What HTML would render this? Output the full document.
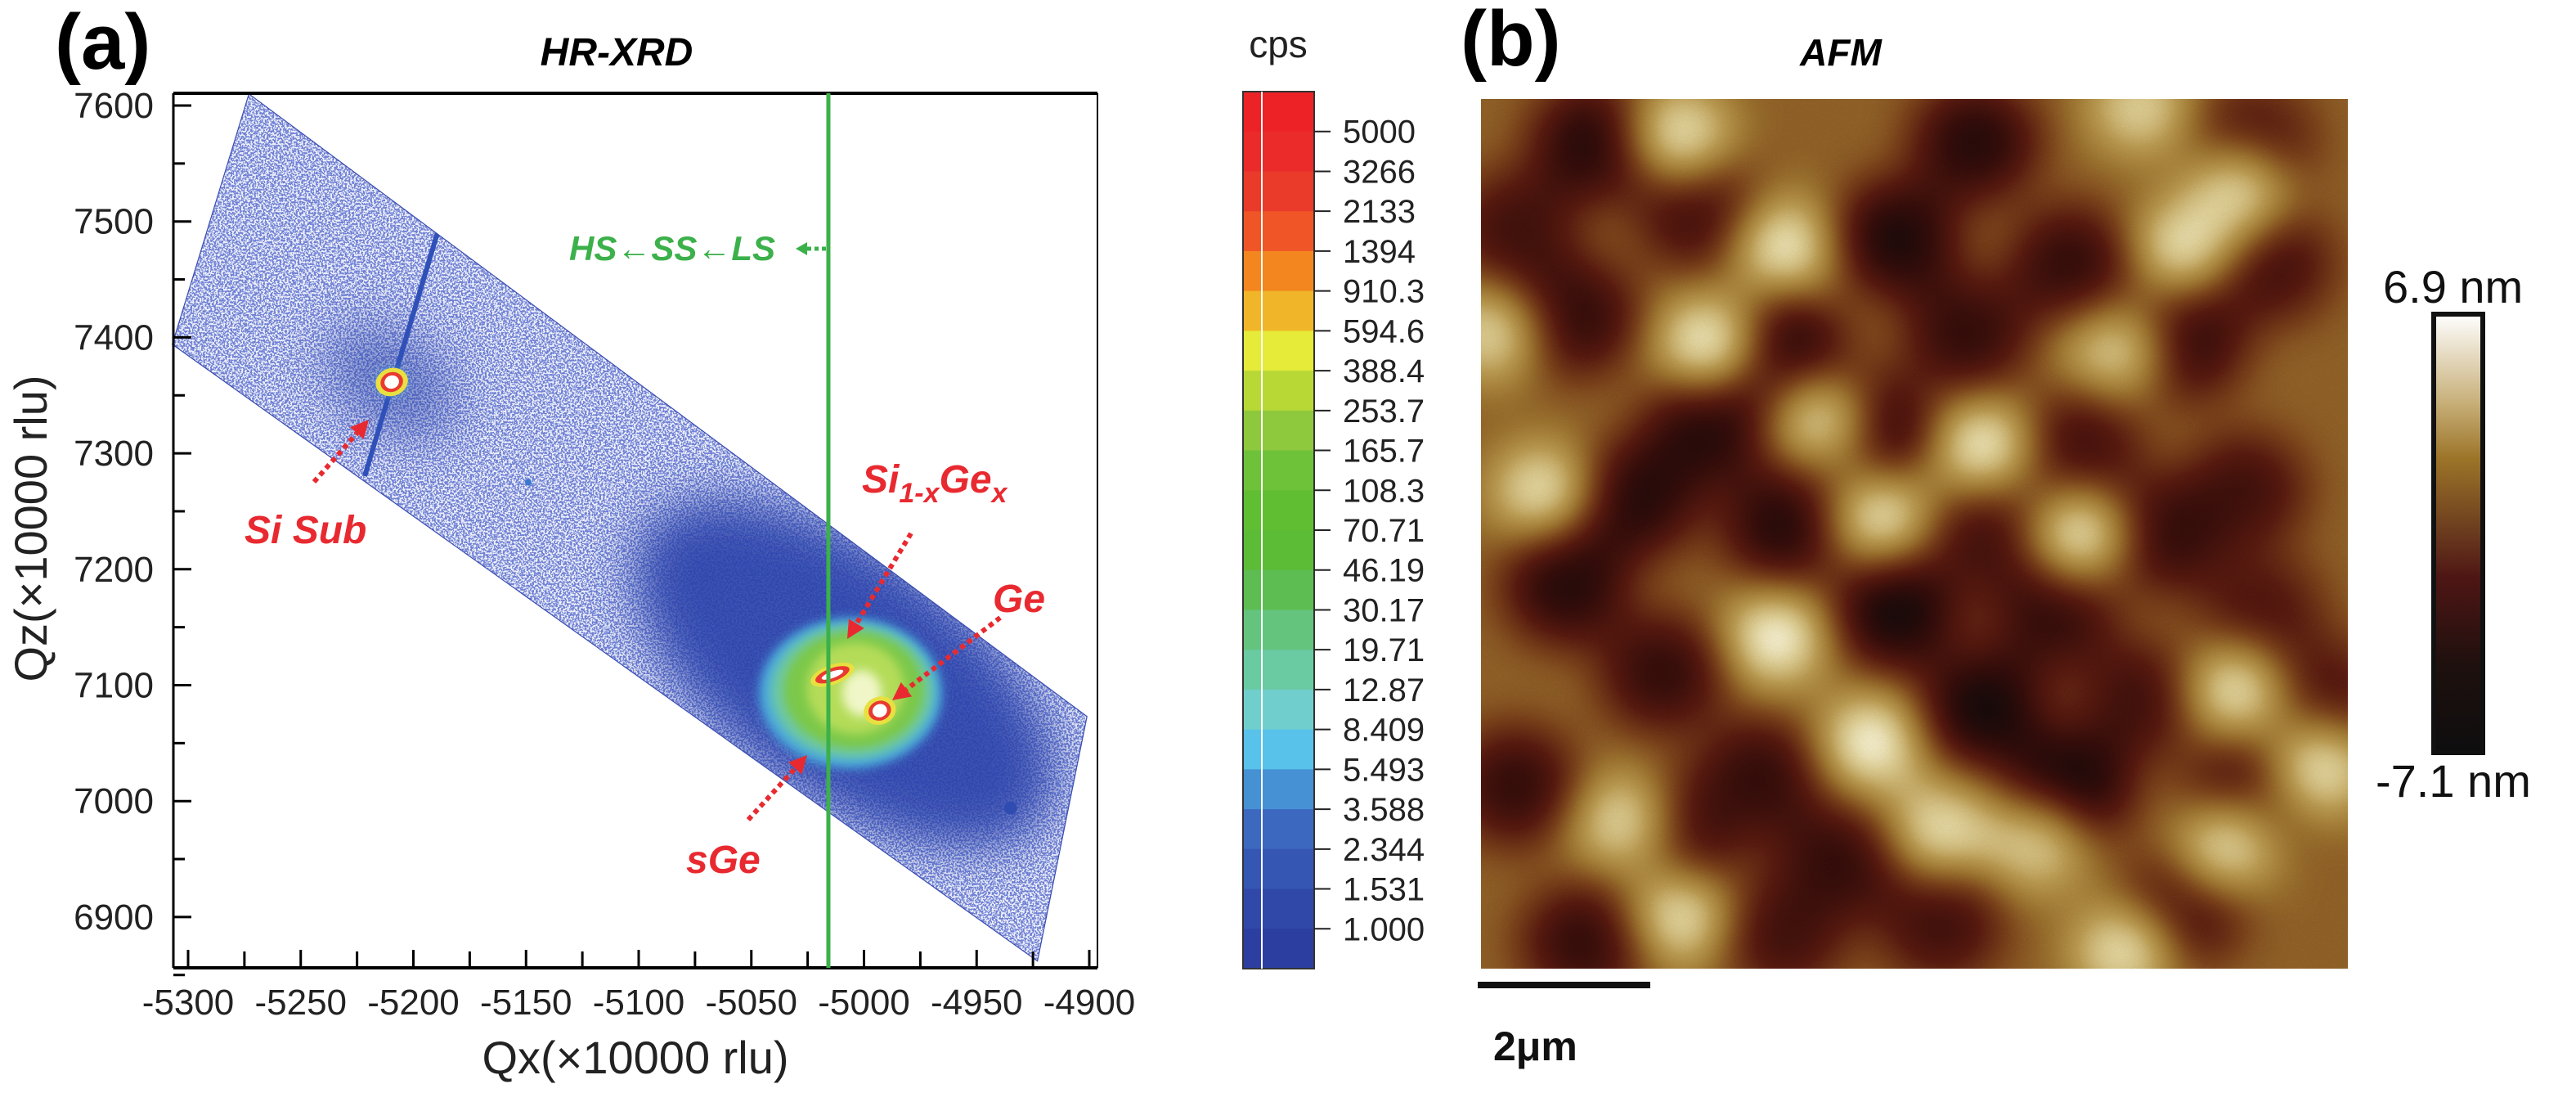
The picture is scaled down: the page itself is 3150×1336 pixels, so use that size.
<!DOCTYPE html>
<html><head><meta charset="utf-8"><title>HR-XRD and AFM</title>
<style>
html,body{margin:0;padding:0;background:#fff;}
svg{display:block;}
text{font-family:"Liberation Sans",Arial,sans-serif;}
</style></head>
<body>
<svg id="fig" xmlns="http://www.w3.org/2000/svg" width="3150" height="1336" viewBox="0 0 3150 1336">
<defs>
  <filter id="speckle" x="0" y="0" width="100%" height="100%">
    <feTurbulence type="fractalNoise" baseFrequency="0.45" numOctaves="2" seed="3" result="n"/>
    <feColorMatrix in="n" type="matrix" values="0 0 0 0 0.16  0 0 0 0 0.22  0 0 0 0 0.66  0 0 0 -10 5.6" result="dots"/>
    <feComposite in="dots" in2="SourceGraphic" operator="in"/>
  </filter>
  <clipPath id="polyClip"><polygon id="clipPoly" points="0,0"/></clipPath>
  <clipPath id="afmClip"><rect x="1811" y="121" width="1060" height="1063"/></clipPath>
  <filter id="blurBig" x="-50%" y="-50%" width="200%" height="200%"><feGaussianBlur stdDeviation="30"/></filter>
  <filter id="blurMid" x="-50%" y="-50%" width="200%" height="200%"><feGaussianBlur stdDeviation="14"/></filter>
  <filter id="blurSm" x="-50%" y="-50%" width="200%" height="200%"><feGaussianBlur stdDeviation="6"/></filter>
  <filter id="afmMap" x="0" y="0" width="100%" height="100%" color-interpolation-filters="sRGB">
    <feGaussianBlur in="SourceGraphic" stdDeviation="32" result="b"/>
    <feTurbulence type="fractalNoise" baseFrequency="0.9" numOctaves="1" seed="7" result="t"/>
    <feColorMatrix in="t" type="matrix" values="0.12 0 0 0 -0.06  0.12 0 0 0 -0.06  0.12 0 0 0 -0.06  0 0 0 0 1" result="tn"/>
    <feComposite in="b" in2="tn" operator="arithmetic" k2="1" k3="1" result="h"/>
    <feComponentTransfer in="h">
      <feFuncR type="table" tableValues="0.05 0.20 0.34 0.47 0.60 0.72 0.86 1.0"/>
      <feFuncG type="table" tableValues="0.04 0.05 0.10 0.25 0.44 0.60 0.80 1.0"/>
      <feFuncB type="table" tableValues="0.04 0.04 0.06 0.10 0.18 0.32 0.58 0.94"/>
    </feComponentTransfer>
  </filter>
  <linearGradient id="afmBar" x1="0" y1="0" x2="0" y2="1">
    <stop offset="0" stop-color="#ffffff"/>
    <stop offset="0.2" stop-color="#c8b07a"/>
    <stop offset="0.33" stop-color="#9c7428"/>
    <stop offset="0.5" stop-color="#6a3a1e"/>
    <stop offset="0.6" stop-color="#4e1614"/>
    <stop offset="0.8" stop-color="#1e100e"/>
    <stop offset="1" stop-color="#0e0e0e"/>
  </linearGradient>
</defs>
<g id="panelA"></g>
<g id="cbar"></g>
<g id="panelB"></g>
</svg>
<script>
// ---------- data ----------
const xTicks = [-5300,-5250,-5200,-5150,-5100,-5050,-5000,-4950,-4900];
const yTicks = [7600,7500,7400,7300,7200,7100,7000,6900];
const cpsLabels = ["5000","3266","2133","1394","910.3","594.6","388.4","253.7","165.7","108.3","70.71","46.19","30.17","19.71","12.87","8.409","5.493","3.588","2.344","1.531","1.000"];
const cpsColors = ["#ec2227","#eb2a2a","#e93a2a","#ef5526","#f3861f","#f0b528","#e6ea38","#b8d836","#8ec83c","#6ec23a","#60be32","#5cbc36","#5dbd52","#64c47e","#6acaa2","#70cfcc","#58c2ea","#4690d4","#3c68c0","#3656b4","#3048a8","#2c3fa0"];
const mapCorners = [[-5273,7610],[-4901,7073],[-4923,6862],[-5307,7394]];
const peakNames = ["Si Sub","SiGe","Ge","sGe"];
const peakQx = [-5209.6,-5014,-4993,-5021];
const peakQz = [7361.5,7109,7078,7040];
const lsLineQx = -5015.8;
const afmDarkU = [.13,.04,.25,.48,.57,.68,.89,.91,.11,.35,.56,.81,.26,.45,.69,.88,.18,.35,.59,.79,.10,.48,.66,.90,.21,.58,.68,.76,.04,.32,.24,.41,.88,.12,.35,.53,.81,.98];
const afmDarkV = [.05,.15,.13,.16,.05,.19,.05,.19,.25,.29,.27,.28,.38,.38,.40,.45,.46,.49,.50,.50,.56,.59,.59,.59,.66,.70,.79,.69,.79,.78,.84,.88,.80,.97,.96,.95,.93,.69];
const afmDarkH = [.9,.7,.7,.95,.9,.8,.6,.7,.8,.9,.8,.8,.9,.9,.7,.7,.9,.9,.7,.8,.9,1,.8,.6,.8,1,1,.7,.8,.8,.7,.8,.7,.8,.7,.7,.7,.6];
const afmBrightU = [.23,.35,.26,.58,.07,.46,.69,.81,.87,.34,.45,.87,.97,.16,.53,.23,.74,.86,.01,.73,.39,.76,.64];
const afmBrightV = [.04,.17,.28,.40,.45,.48,.50,.17,.11,.62,.74,.68,.77,.83,.84,.94,.98,.86,.27,.29,.37,.01,.86];
const afmBrightH = [.8,.9,.9,.9,.8,.8,.8,.8,.7,1,1,.8,.8,.7,.8,.8,.8,.7,.7,.6,.6,.7,.6];

// ---------- axes ----------
const X0=230, XS=2.755, Y0=129, YS=1.417;
function xS(v){return X0+(v+5300)*XS;}
function yS(v){return Y0+(7600-v)*YS;}
const NS="http://www.w3.org/2000/svg";
function mk(tag,attrs,parent,txt){const e=document.createElementNS(NS,tag);for(const k in attrs)e.setAttribute(k,attrs[k]);if(txt!==undefined)e.textContent=txt;parent.appendChild(e);return e;}
const A=document.getElementById('panelA');
const FL=212,FT=114,FR=1342,FB=1183;

let e;
e=mk('text',{x:67,y:84,'font-size':96,'font-weight':'bold'},A,'(a)');


e=mk('text',{x:754,y:80,'font-size':48,'font-weight':'bold','font-style':'italic','text-anchor':'middle'},A,'HR-XRD');



// map polygon
const pts=mapCorners.map(c=>xS(c[0]).toFixed(1)+','+yS(c[1]).toFixed(1)).join(' ');
document.getElementById('clipPoly').setAttribute('points',pts);
const mapG=mk('g',{'clip-path':'url(#polyClip)'},A);


mk('polygon',{points:pts,fill:'#eef0fa'},mapG);
mk('polygon',{points:pts,fill:'#000',filter:'url(#speckle)'},mapG);
const cx=xS(-5006), cy=yS(7093);
mk('ellipse',{cx:cx-20,cy:cy-15,rx:300,ry:150,fill:'#2a42aa',opacity:0.9,transform:`rotate(36 ${cx} ${cy})`,filter:'url(#blurBig)'},mapG);
mk('ellipse',{cx:xS(-5209.6),cy:yS(7361.5),rx:90,ry:60,fill:'#3048ac',opacity:0.55,transform:`rotate(36 ${xS(-5209.6)} ${yS(7361.5)})`,filter:'url(#blurBig)'},mapG);
e=mk('line',{x1:536,y1:281,x2:446,y2:582,stroke:'#2f50b8','stroke-width':6},mapG);


mk('circle',{cx:xS(-4935),cy:yS(6994),r:8,fill:'#2f4cb0'},mapG);
mk('circle',{cx:xS(-5149),cy:yS(7275),r:4,fill:'#3a78cc'},mapG);
mk('ellipse',{cx:xS(-5209.6),cy:yS(7361.5),rx:16,ry:14,fill:'#58c4e0',filter:'url(#blurSm)'},mapG);
// main layer blob
const blob=mk('g',{},mapG);


mk('ellipse',{cx:cx,cy:cy,rx:112,ry:92,fill:'#48a8dc',filter:'url(#blurSm)'},blob);
mk('ellipse',{cx:cx+2,cy:cy-2,rx:100,ry:82,fill:'#6cc8a8',filter:'url(#blurSm)'},blob);
mk('ellipse',{cx:cx+4,cy:cy-4,rx:86,ry:72,fill:'#7cc84a',filter:'url(#blurSm)'},blob);
mk('ellipse',{cx:cx+6,cy:cy-6,rx:60,ry:56,fill:'#b4dc58',filter:'url(#blurSm)'},blob);
mk('ellipse',{cx:cx+14,cy:cy,rx:24,ry:28,fill:'#f0f6c8',filter:'url(#blurSm)'},blob);
for(let i=0;i<peakNames.length;i++){
  const px=xS(peakQx[i]), py=yS(peakQz[i]);
  const g=mk('g',{},mapG);
  
  
  if(i===3) continue;
  const big=(i!==1);
  mk('ellipse',{cx:px,cy:py,rx:big?20:28,ry:big?17:12,fill:'#e8e040',transform:`rotate(-20 ${px} ${py})`},g);
  mk('ellipse',{cx:px,cy:py,rx:big?14:22,ry:big?12:8,fill:'#e83a30',transform:`rotate(-20 ${px} ${py})`},g);
  mk('ellipse',{cx:px,cy:py,rx:big?9:14,ry:big?8:4,fill:'#fff',transform:`rotate(-20 ${px} ${py})`},g);
}
mk('polygon',{points:pts,fill:'none',stroke:'#3a4cb0','stroke-width':1.2},A);

// frame
const frame=mk('g',{},A);


mk('line',{x1:FL,y1:FT,x2:FR,y2:FT,stroke:'#000','stroke-width':4},frame);
mk('line',{x1:FR,y1:FT,x2:FR,y2:FB,stroke:'#000','stroke-width':2},frame);
mk('line',{x1:FL,y1:FT,x2:FL,y2:FB,stroke:'#000','stroke-width':3},frame);
mk('line',{x1:FL,y1:FB,x2:FR,y2:FB,stroke:'#000','stroke-width':4},frame);

e=mk('line',{x1:xS(lsLineQx),y1:FT,x2:xS(lsLineQx),y2:FB,stroke:'#3cb04a','stroke-width':5},A);


e=mk('text',{x:696,y:318,'font-size':42,'font-weight':'bold','font-style':'italic',fill:'#3cb04a'},A,'HS\u2190SS\u2190LS');


mk('polygon',{points:'973,304 987,296 987,312',fill:'#3cb04a'},A);
mk('line',{x1:987,y1:304,x2:1010,y2:304,stroke:'#3cb04a','stroke-width':5,'stroke-dasharray':'5 4'},A);

for(let i=0;i<xTicks.length;i++){
  const x=xS(xTicks[i]);
  e=mk('line',{x1:x,y1:FB,x2:x,y2:FB-22,stroke:'#000','stroke-width':3},A);
  
  
  if(i<xTicks.length-1){mk('line',{x1:x+XS*25,y1:FB,x2:x+XS*25,y2:FB-20,stroke:'#000','stroke-width':3},A);}
  e=mk('text',{x:x,y:1240,'font-size':44,'text-anchor':'middle',fill:'#222'},A,String(xTicks[i]));
  
  
}
for(let i=0;i<yTicks.length;i++){
  const y=yS(yTicks[i]);
  e=mk('line',{x1:FL,y1:y,x2:FL+22,y2:y,stroke:'#000','stroke-width':3},A);
  
  
  mk('line',{x1:FL,y1:y+YS*50,x2:FL+14,y2:y+YS*50,stroke:'#000','stroke-width':3},A);
  e=mk('text',{x:188,y:y+15,'font-size':44,'text-anchor':'end',fill:'#222'},A,String(yTicks[i]));
  
  
}
e=mk('text',{x:777,y:1312,'font-size':56,'text-anchor':'middle',fill:'#222'},A,'Qx(\u00d710000 rlu)');


e=mk('text',{x:0,y:0,'font-size':56,'text-anchor':'middle',fill:'#222',transform:'translate(57 646) rotate(-90)'},A,'Qz(\u00d710000 rlu)');



function arrow(x1,y1,x2,y2,name){
  const g=mk('g',{},A);
  
  
  const dx=x2-x1, dy=y2-y1, L=Math.hypot(dx,dy), ux=dx/L, uy=dy/L;
  const hx=x2-ux*22, hy=y2-uy*22;
  mk('line',{x1:x1,y1:y1,x2:hx,y2:hy,stroke:'#e82a30','stroke-width':6,'stroke-dasharray':'6 5'},g);
  mk('polygon',{points:`${x2},${y2} ${hx-uy*11},${hy+ux*11} ${hx+uy*11},${hy-ux*11}`,fill:'#e82a30'},g);
}
arrow(384,589,451,513,'si-sub-arrow');
arrow(1114,652,1036,781,'sige-arrow');
arrow(1223,755,1091,856,'ge-arrow');
arrow(915,1002,987,923,'sge-arrow');
function redText(x,y,t,name){e=mk('text',{x:x,y:y,'font-size':48,'font-weight':'bold','font-style':'italic',fill:'#e82a30'},A,t);return e;}
redText(299,664,'Si Sub','si-sub-label');
const sg=redText(1054,602,'Si','sige-label');
mk('tspan',{'font-size':34,dy:12},sg,'1-x');
mk('tspan',{'font-size':48,dy:-12},sg,'Ge');
mk('tspan',{'font-size':34,dy:12},sg,'x');
redText(1214,748,'Ge','ge-label');
redText(839,1067,'sGe','sge-label');

// ---------- colorbar ----------
const C=document.getElementById('cbar');
const CBX=1520, CBW=87, CBT=112, CBB=1184;
const bandH=(CBB-CBT)/cpsColors.length;
e=mk('text',{x:1563,y:70,'font-size':46,'text-anchor':'middle',fill:'#222'},C,'cps');


for(let i=0;i<cpsColors.length;i++){
  e=mk('rect',{x:CBX,y:CBT+i*bandH,width:CBW,height:bandH+0.6,fill:cpsColors[i]},C);
  
  
}
mk('rect',{x:CBX,y:CBT,width:CBW,height:CBB-CBT,fill:'none',stroke:'#333','stroke-width':2},C);
mk('line',{x1:1543,y1:CBT,x2:1543,y2:CBB,stroke:'#fff','stroke-width':2},C);
for(let i=0;i<cpsLabels.length;i++){
  const y=CBT+(i+1)*bandH;
  mk('line',{x1:CBX+CBW,y1:y,x2:1627,y2:y,stroke:'#222','stroke-width':2},C);
  e=mk('text',{x:1642,y:y+14,'font-size':40,fill:'#222'},C,cpsLabels[i]);
  
  
}

// ---------- AFM ----------
const B=document.getElementById('panelB');
const AX=1811, AY=121, AW=1060, AH=1063;
e=mk('text',{x:1786,y:80,'font-size':96,'font-weight':'bold'},B,'(b)');


e=mk('text',{x:2251,y:80,'font-size':46,'font-weight':'bold','font-style':'italic','text-anchor':'middle'},B,'AFM');


const img=mk('g',{'clip-path':'url(#afmClip)'},B);


const hg=mk('g',{filter:'url(#afmMap)'},img);
mk('rect',{x:AX-80,y:AY-80,width:AW+160,height:AH+160,fill:'rgb(132,132,132)'},hg);
for(let i=0;i<afmDarkU.length;i++){
  const v=Math.round(140-135*afmDarkH[i]);
  mk('ellipse',{cx:AX+afmDarkU[i]*AW,cy:AY+afmDarkV[i]*AH,rx:74,ry:68,fill:`rgb(${v},${v},${v})`},hg);
}
for(let i=0;i<afmBrightU.length;i++){
  const v=Math.round(165+90*afmBrightH[i]);
  mk('ellipse',{cx:AX+afmBrightU[i]*AW,cy:AY+afmBrightV[i]*AH,rx:62,ry:56,fill:`rgb(${v},${v},${v})`},hg);
}
e=mk('rect',{x:1807,y:1200,width:211,height:8,fill:'#111'},B);


e=mk('text',{x:1826,y:1296,'font-size':50,'font-weight':'bold',fill:'#111'},B,'2\u03bcm');


e=mk('rect',{x:2976,y:384,width:60,height:536,fill:'url(#afmBar)',stroke:'#111','stroke-width':6},B);


e=mk('text',{x:2914,y:370,'font-size':56,fill:'#111'},B,'6.9 nm');


e=mk('text',{x:2905,y:974,'font-size':56,fill:'#111'},B,'-7.1 nm');


</script>
</body></html>
